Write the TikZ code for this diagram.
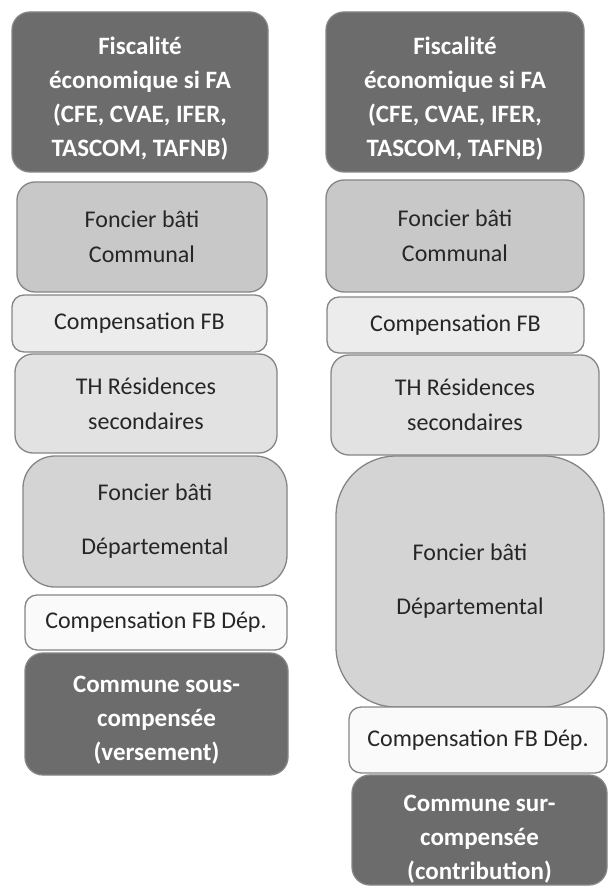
\documentclass[tikz,border=0pt]{standalone}
\usepackage{fontspec}
\setmainfont{Carlito}
\definecolor{darkfill}{HTML}{6C6C6C}
\definecolor{commfill}{HTML}{C8C8C8}
\definecolor{compfill}{HTML}{ECECEC}
\definecolor{thfill}{HTML}{E2E2E2}
\definecolor{depfill}{HTML}{D4D4D4}
\definecolor{cdepfill}{HTML}{FAFAFA}
\definecolor{edge}{HTML}{858585}
\begin{document}
\begin{tikzpicture}[x=1pt,y=-1pt]
\tikzset{
  bx/.style={draw=edge, line width=1.3pt, rounded corners=18pt, align=center, inner sep=0pt,
    font=\fontsize{24}{35}\selectfont, text=black!85},
  darkbx/.style={bx, fill=darkfill},
  darktxt/.style={align=center, inner sep=0pt, text=white, font=\fontsize{25}{34}\selectfont\bfseries},
  commbx/.style={bx, fill=commfill},
  compbx/.style={bx, fill=compfill, rounded corners=12pt},
  thbx/.style={bx, fill=thfill},
  depbx/.style={bx, fill=depfill},
  cdepbx/.style={bx, fill=cdepfill, rounded corners=12pt},
}
\useasboundingbox (0,0) rectangle (608,890);
% left column
\node[darkbx, minimum width=256pt, minimum height=160pt] (l1) at (140,92) {};
\node[darktxt] (l1t) at ([yshift=-7pt]l1.center) {Fiscalité\\économique si FA\\(CFE, CVAE, IFER,\\TASCOM, TAFNB)};
\node[commbx, minimum width=250pt, minimum height=110pt] (l2) at (142,237) {Foncier bâti\\Communal};
\node[compbx, minimum width=255pt, minimum height=57pt] (l3) at (139.5,323.5) {Compensation FB};
\node[thbx, minimum width=262pt, minimum height=99pt] (l4) at (146,403.5) {TH Résidences\\secondaires};
\node[depbx, rounded corners=32pt, minimum width=264pt, minimum height=131pt] (l5) at (155,521.5) {Foncier bâti\\[19pt]Départemental};
\node[cdepbx, minimum width=262pt, minimum height=55pt] (l6) at (156,622.5) {Compensation FB Dép.};
\node[darkbx, minimum width=263pt, minimum height=122pt] (l7) at (156.5,714) {};
\node[darktxt] (l7t) at ([yshift=-6pt]l7.center) {Commune sous-\\compensée\\(versement)};
% right column
\node[darkbx, minimum width=258pt, minimum height=160pt] (r1) at (455,92) {};
\node[darktxt] (r1t) at ([yshift=-7pt]r1.center) {Fiscalité\\économique si FA\\(CFE, CVAE, IFER,\\TASCOM, TAFNB)};
\node[commbx, minimum width=258pt, minimum height=112pt] (r2) at (455,236) {Foncier bâti\\Communal};
\node[compbx, minimum width=257pt, minimum height=56pt] (r3) at (455.5,325) {Compensation FB};
\node[thbx, minimum width=268pt, minimum height=100pt] (r4) at (465,405) {TH Résidences\\secondaires};
\node[depbx, rounded corners=60pt, minimum width=268pt, minimum height=251pt] (r5) at (470,581.5) {Foncier bâti\\[19pt]Départemental};
\node[cdepbx, minimum width=258pt, minimum height=66pt] (r6) at (478,740) {Compensation FB Dép.};
\node[darkbx, minimum width=255pt, minimum height=110pt] (r7) at (479.5,830) {};
\node[darktxt] (r7t) at ([yshift=-9pt]r7.center) {Commune sur-\\compensée\\(contribution)};
\end{tikzpicture}
\end{document}
